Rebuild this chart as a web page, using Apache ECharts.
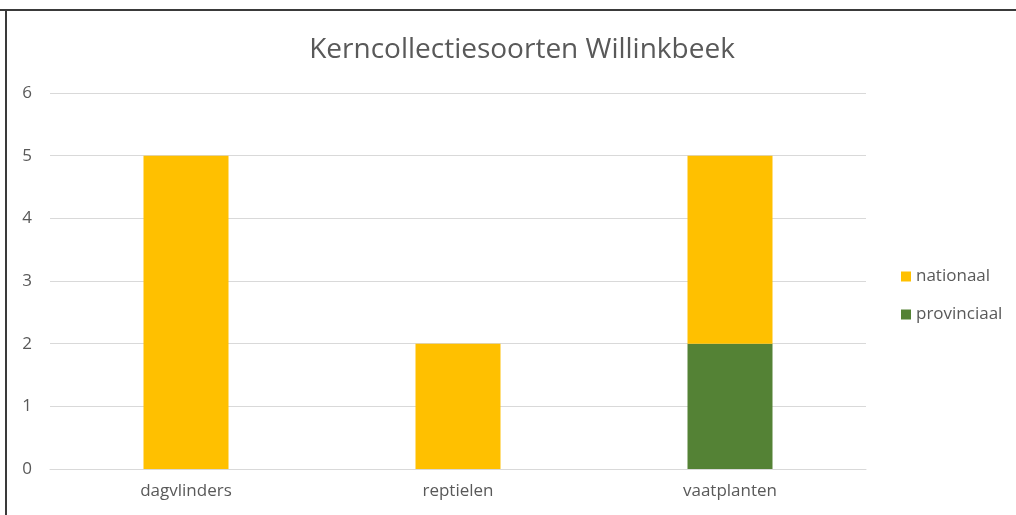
<!DOCTYPE html>
<html><head><meta charset="utf-8">
<script src="https://cdn.jsdelivr.net/npm/echarts@6/dist/echarts.min.js"></script>
<style>html,body{margin:0;padding:0;background:#fff}#c{width:1016px;height:515px}</style>
</head><body><div id="c"></div>
<script>
const categories = ['dagvlinders', 'reptielen', 'vaatplanten'];
const provinciaal = [0, 0, 2];
const nationaal = [5, 2, 3];
const yTicks = [0, 1, 2, 3, 4, 5, 6];

const chart = echarts.init(document.getElementById('c'), null, {renderer: 'canvas'});
const font = '"Open Sans", sans-serif';
chart.setOption({
  backgroundColor: '#fff',
  animation: false,
  title: {
    text: 'Kerncollectiesoorten Willinkbeek',
    left: 517, top: 31, textAlign: 'center',
    textStyle: {fontFamily: font, fontSize: 28, fontWeight: 'normal', color: '#595959'}
  },
  graphic: [
    {type: 'line', shape: {x1: 0, y1: 10, x2: 1016, y2: 10}, style: {stroke: '#3a3a3a', lineWidth: 2}},
    {type: 'line', shape: {x1: 6, y1: 9, x2: 6, y2: 515}, style: {stroke: '#3a3a3a', lineWidth: 2}}
  ],
  legend: {
    orient: 'vertical', left: 901, top: 268, padding: 0,
    itemWidth: 10, itemHeight: 10, itemGap: 21,
    icon: 'rect',
    data: ['nationaal', 'provinciaal'],
    textStyle: {fontFamily: font, fontSize: 17, color: '#595959'}
  },
  grid: {left: 50, right: 150, top: 93, bottom: 46, containLabel: false},
  xAxis: {
    type: 'category', data: categories,
    axisLine: {lineStyle: {color: '#d9d9d9'}},
    axisTick: {show: false},
    axisLabel: {fontFamily: font, fontSize: 17, color: '#595959', margin: 14}
  },
  yAxis: {
    type: 'value', min: yTicks[0], max: yTicks[yTicks.length - 1], interval: 1,
    axisLine: {show: false}, axisTick: {show: false},
    axisLabel: {fontFamily: font, fontSize: 17, color: '#595959', margin: 18},
    splitLine: {lineStyle: {color: '#d9d9d9'}}
  },
  series: [
    {name: 'provinciaal', type: 'bar', stack: 's', data: provinciaal, barWidth: 85, itemStyle: {color: '#548235'}},
    {name: 'nationaal', type: 'bar', stack: 's', data: nationaal, barWidth: 85, itemStyle: {color: '#FFC000'}}
  ]
});
</script></body></html>
